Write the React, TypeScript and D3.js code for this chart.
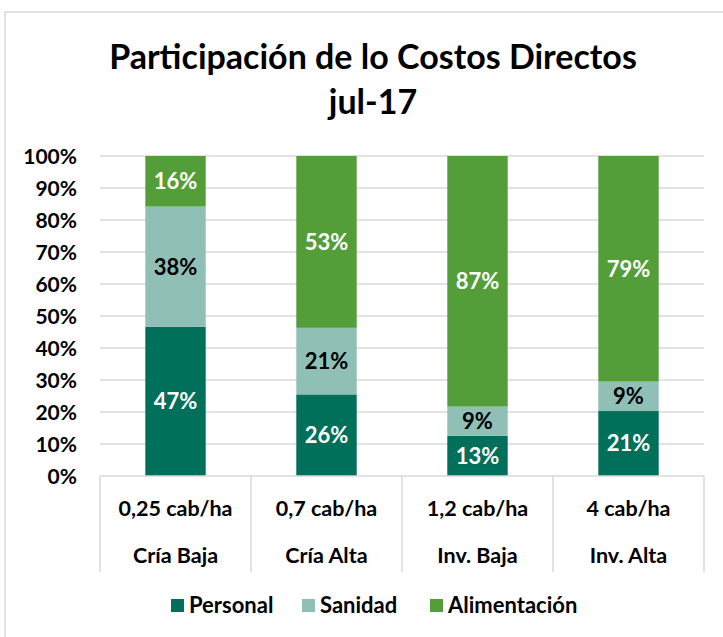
import React from "react";
import * as d3 from "d3";

const categories = ["Cría Baja", "Cría Alta", "Inv. Baja", "Inv. Alta"];
const densities = ["0,25 cab/ha", "0,7 cab/ha", "1,2 cab/ha", "4 cab/ha"];
const seriesNames = ["Personal", "Sanidad", "Alimentación"];
// bar shares (percent of the stacked 100% bar)
const personal = [46.6, 25.5, 12.6, 20.3];
const sanidad = [37.6, 20.8, 9.1, 9.2];
const alimentacion = [15.8, 53.7, 78.3, 70.5];
// data label texts as shown on the chart
const personalLabels = ["47%", "26%", "13%", "21%"];
const sanidadLabels = ["38%", "21%", "9%", "9%"];
const alimentacionLabels = ["16%", "53%", "87%", "79%"];
const yTicks = [0, 10, 20, 30, 40, 50, 60, 70, 80, 90, 100];

const colors = ["#00705A", "#8FBFB5", "#549E39"];
const labelColors = ["#ffffff", "#000000", "#ffffff"];
const FONT = "Lato, 'Open Sans', sans-serif";

export default function App() {
  const W = 723, H = 637;
  const left = 100, right = 704, top = 156, bottom = 476;
  const y = d3.scaleLinear().domain([0, 100]).range([bottom, top]);
  const x = d3.scaleBand<string>().domain(categories).range([left, right]).paddingInner(0.6).paddingOuter(0.3);
  const xc = d3.scaleBand<string>().domain(categories).range([left, right]).padding(0);

  const labels = [personalLabels, sanidadLabels, alimentacionLabels];
  const table = categories.map((c, i) => ({
    cat: c,
    Personal: personal[i],
    Sanidad: sanidad[i],
    "Alimentación": alimentacion[i],
  }));
  const stack = d3.stack<any>().keys(seriesNames)(table);

  const legendX = [171, 302, 430];

  return (
    <svg width={W} height={H} style={{ position: "absolute", left: 0, top: 0, background: "#fff" }} fontFamily={FONT}>
      <rect x={5} y={12} width={730} height={640} fill="#fff" stroke="#d9d9d9" strokeWidth={1.5} />
      <text x={373} y={69} textAnchor="middle" fontSize={34} fontWeight={700} fill="#000">
        Participación de lo Costos Directos
      </text>
      <text x={373} y={114} textAnchor="middle" fontSize={34} fontWeight={700} fill="#000">
        jul-17
      </text>
      {yTicks.map((t) => (
        <g key={t}>
          {t > 0 && <line x1={left} x2={right} y1={y(t)} y2={y(t)} stroke="#d9d9d9" strokeWidth={1.3} />}
          <text x={77} y={y(t)} dy="0.36em" textAnchor="end" fontSize={21} fontWeight={700} fill="#000">
            {t}%
          </text>
        </g>
      ))}
      {stack.map((s, si) => (
        <g key={s.key}>
          {s.map((d, i) => (
            <g key={i}>
              <rect
                x={x(categories[i])!}
                width={x.bandwidth()}
                y={y(d[1])}
                height={y(d[0]) - y(d[1])}
                fill={colors[si]}
              />
              <text
                x={x(categories[i])! + x.bandwidth() / 2}
                y={(y(d[0]) + y(d[1])) / 2}
                dy="0.36em"
                textAnchor="middle"
                fontSize={22}
                fontWeight={700}
                fill={labelColors[si]}
              >
                {labels[si][i]}
              </text>
            </g>
          ))}
        </g>
      ))}
      <line x1={left} x2={right} y1={bottom} y2={bottom} stroke="#d9d9d9" strokeWidth={1.5} />
      {[...categories.map((c) => xc(c)!), right].map((px, i) => (
        <line key={i} x1={px} x2={px} y1={bottom} y2={572} stroke="#d9d9d9" strokeWidth={1.5} />
      ))}
      {categories.map((c, i) => (
        <g key={c}>
          <text x={xc(c)! + xc.bandwidth() / 2} y={508} dy="0.36em" textAnchor="middle" fontSize={21.5} fontWeight={700} fill="#000">
            {densities[i]}
          </text>
          <text x={xc(c)! + xc.bandwidth() / 2} y={555} dy="0.36em" textAnchor="middle" fontSize={21.5} fontWeight={700} fill="#000">
            {c}
          </text>
        </g>
      ))}
      {seriesNames.map((n, i) => (
        <g key={n}>
          <rect x={legendX[i]} y={599} width={13} height={13} fill={colors[i]} />
          <text x={legendX[i] + 18} y={605.5} dy="0.36em" fontSize={22} fontWeight={700} fill="#000">
            {n}
          </text>
        </g>
      ))}
    </svg>
  );
}
